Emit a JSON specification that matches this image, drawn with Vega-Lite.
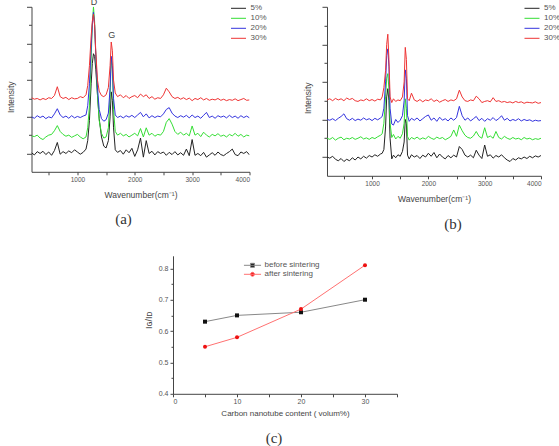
{
  "$schema": "https://vega.github.io/schema/vega-lite/v6.json",
  "background": "white",
  "padding": {"left": 5.5, "top": -2.2, "right": 0, "bottom": 0},
  "center": true,
  "spacing": 24,
  "resolve": {
    "scale": {"color": "independent", "stroke": "independent"},
    "legend": {"color": "independent", "stroke": "independent"}
  },
  "config": {
    "view": {"stroke": null},
    "font": "Liberation Sans",
    "axis": {"grid": false, "domainColor": "#444", "tickColor": "#444", "labelColor": "#555", "titleColor": "#444", "titleFontWeight": "normal", "labelFont": "Liberation Sans", "titleFont": "Liberation Sans"},
    "legend": {"padding": 0, "labelFont": "Liberation Sans", "labelColor": "#555"},
    "title": {"font": "Liberation Serif", "fontSize": 15, "fontWeight": "normal", "color": "#333", "orient": "bottom"}
  },
  "datasets": {
    "a": [
      {"s":"5%","x":200,"y":0.02},{"s":"5%","x":250,"y":-0.04},{"s":"5%","x":300,"y":0.05},{"s":"5%","x":350,"y":0},{"s":"5%","x":400,"y":0.06},{"s":"5%","x":450,"y":-0.03},{"s":"5%","x":500,"y":0.04},{"s":"5%","x":550,"y":-0.05},{"s":"5%","x":600,"y":0.08},{"s":"5%","x":650,"y":0.3},{"s":"5%","x":700,"y":-0.02},{"s":"5%","x":750,"y":0.05},{"s":"5%","x":800,"y":0},{"s":"5%","x":850,"y":0.07},{"s":"5%","x":900,"y":0.02},{"s":"5%","x":950,"y":0.1},{"s":"5%","x":1000,"y":0.04},{"s":"5%","x":1050,"y":-0.02},{"s":"5%","x":1100,"y":0.03},{"s":"5%","x":1150,"y":0.12},{"s":"5%","x":1180,"y":0.35},{"s":"5%","x":1210,"y":0.9},{"s":"5%","x":1240,"y":1.9},{"s":"5%","x":1260,"y":2.45},{"s":"5%","x":1280,"y":2.72},{"s":"5%","x":1300,"y":2.65},{"s":"5%","x":1320,"y":2.3},{"s":"5%","x":1350,"y":1.6},{"s":"5%","x":1380,"y":0.95},{"s":"5%","x":1420,"y":0.45},{"s":"5%","x":1460,"y":0.2},{"s":"5%","x":1500,"y":0.15},{"s":"5%","x":1540,"y":0.35},{"s":"5%","x":1570,"y":1.0},{"s":"5%","x":1590,"y":1.68},{"s":"5%","x":1610,"y":1.45},{"s":"5%","x":1630,"y":0.7},{"s":"5%","x":1660,"y":0.1},{"s":"5%","x":1700,"y":0.03},{"s":"5%","x":1750,"y":0.08},{"s":"5%","x":1800,"y":-0.02},{"s":"5%","x":1850,"y":0.1},{"s":"5%","x":1900,"y":0.02},{"s":"5%","x":1950,"y":0.14},{"s":"5%","x":2000,"y":-0.08},{"s":"5%","x":2050,"y":0.1},{"s":"5%","x":2100,"y":0.42},{"s":"5%","x":2150,"y":-0.1},{"s":"5%","x":2200,"y":0.35},{"s":"5%","x":2250,"y":0},{"s":"5%","x":2300,"y":0.06},{"s":"5%","x":2350,"y":-0.04},{"s":"5%","x":2400,"y":0.05},{"s":"5%","x":2450,"y":0},{"s":"5%","x":2500,"y":0.04},{"s":"5%","x":2550,"y":-0.05},{"s":"5%","x":2600,"y":0.03},{"s":"5%","x":2650,"y":-0.03},{"s":"5%","x":2700,"y":0.05},{"s":"5%","x":2750,"y":-0.04},{"s":"5%","x":2800,"y":0.02},{"s":"5%","x":2850,"y":-0.05},{"s":"5%","x":2900,"y":0.12},{"s":"5%","x":2950,"y":-0.06},{"s":"5%","x":3000,"y":0.38},{"s":"5%","x":3050,"y":-0.05},{"s":"5%","x":3100,"y":0},{"s":"5%","x":3150,"y":-0.06},{"s":"5%","x":3200,"y":0.03},{"s":"5%","x":3250,"y":-0.1},{"s":"5%","x":3300,"y":-0.04},{"s":"5%","x":3350,"y":0.02},{"s":"5%","x":3400,"y":-0.05},{"s":"5%","x":3450,"y":0.04},{"s":"5%","x":3500,"y":-0.03},{"s":"5%","x":3550,"y":-0.06},{"s":"5%","x":3600,"y":0},{"s":"5%","x":3650,"y":0.05},{"s":"5%","x":3700,"y":0.12},{"s":"5%","x":3750,"y":-0.03},{"s":"5%","x":3800,"y":-0.06},{"s":"5%","x":3850,"y":0.04},{"s":"5%","x":3900,"y":0},{"s":"5%","x":3950,"y":0.05},{"s":"5%","x":4000,"y":-0.04},

      {"s":"10%","x":200,"y":0.48},{"s":"10%","x":250,"y":0.46},{"s":"10%","x":300,"y":0.5},{"s":"10%","x":350,"y":0.42},{"s":"10%","x":400,"y":0.38},{"s":"10%","x":450,"y":0.45},{"s":"10%","x":500,"y":0.5},{"s":"10%","x":550,"y":0.52},{"s":"10%","x":600,"y":0.62},{"s":"10%","x":650,"y":0.76},{"s":"10%","x":700,"y":0.6},{"s":"10%","x":750,"y":0.52},{"s":"10%","x":800,"y":0.47},{"s":"10%","x":850,"y":0.5},{"s":"10%","x":900,"y":0.44},{"s":"10%","x":950,"y":0.48},{"s":"10%","x":1000,"y":0.52},{"s":"10%","x":1050,"y":0.45},{"s":"10%","x":1100,"y":0.4},{"s":"10%","x":1150,"y":0.45},{"s":"10%","x":1180,"y":0.7},{"s":"10%","x":1210,"y":1.3},{"s":"10%","x":1240,"y":2.6},{"s":"10%","x":1260,"y":3.5},{"s":"10%","x":1280,"y":4.0},{"s":"10%","x":1300,"y":3.6},{"s":"10%","x":1320,"y":2.7},{"s":"10%","x":1350,"y":1.6},{"s":"10%","x":1380,"y":0.9},{"s":"10%","x":1420,"y":0.55},{"s":"10%","x":1460,"y":0.42},{"s":"10%","x":1500,"y":0.45},{"s":"10%","x":1540,"y":0.7},{"s":"10%","x":1570,"y":1.6},{"s":"10%","x":1590,"y":2.6},{"s":"10%","x":1610,"y":2.3},{"s":"10%","x":1630,"y":1.2},{"s":"10%","x":1660,"y":0.6},{"s":"10%","x":1700,"y":0.5},{"s":"10%","x":1750,"y":0.55},{"s":"10%","x":1800,"y":0.48},{"s":"10%","x":1850,"y":0.52},{"s":"10%","x":1900,"y":0.45},{"s":"10%","x":1950,"y":0.5},{"s":"10%","x":2000,"y":0.55},{"s":"10%","x":2050,"y":0.48},{"s":"10%","x":2100,"y":0.68},{"s":"10%","x":2150,"y":0.45},{"s":"10%","x":2200,"y":0.7},{"s":"10%","x":2250,"y":0.5},{"s":"10%","x":2300,"y":0.55},{"s":"10%","x":2350,"y":0.47},{"s":"10%","x":2400,"y":0.52},{"s":"10%","x":2450,"y":0.5},{"s":"10%","x":2500,"y":0.6},{"s":"10%","x":2550,"y":0.85},{"s":"10%","x":2600,"y":0.95},{"s":"10%","x":2650,"y":0.8},{"s":"10%","x":2700,"y":0.6},{"s":"10%","x":2750,"y":0.52},{"s":"10%","x":2800,"y":0.58},{"s":"10%","x":2850,"y":0.5},{"s":"10%","x":2900,"y":0.55},{"s":"10%","x":2950,"y":0.48},{"s":"10%","x":3000,"y":0.75},{"s":"10%","x":3050,"y":0.5},{"s":"10%","x":3100,"y":0.55},{"s":"10%","x":3150,"y":0.46},{"s":"10%","x":3200,"y":0.58},{"s":"10%","x":3250,"y":0.5},{"s":"10%","x":3300,"y":0.45},{"s":"10%","x":3350,"y":0.52},{"s":"10%","x":3400,"y":0.48},{"s":"10%","x":3450,"y":0.54},{"s":"10%","x":3500,"y":0.47},{"s":"10%","x":3550,"y":0.5},{"s":"10%","x":3600,"y":0.45},{"s":"10%","x":3650,"y":0.52},{"s":"10%","x":3700,"y":0.48},{"s":"10%","x":3750,"y":0.55},{"s":"10%","x":3800,"y":0.47},{"s":"10%","x":3850,"y":0.52},{"s":"10%","x":3900,"y":0.45},{"s":"10%","x":3950,"y":0.5},{"s":"10%","x":4000,"y":0.48},

      {"s":"20%","x":200,"y":1.0},{"s":"20%","x":250,"y":0.96},{"s":"20%","x":300,"y":1.03},{"s":"20%","x":350,"y":0.98},{"s":"20%","x":400,"y":1.02},{"s":"20%","x":450,"y":0.95},{"s":"20%","x":500,"y":1.0},{"s":"20%","x":550,"y":0.97},{"s":"20%","x":600,"y":1.08},{"s":"20%","x":650,"y":1.22},{"s":"20%","x":700,"y":1.05},{"s":"20%","x":750,"y":0.98},{"s":"20%","x":800,"y":1.02},{"s":"20%","x":850,"y":0.96},{"s":"20%","x":900,"y":1.03},{"s":"20%","x":950,"y":0.97},{"s":"20%","x":1000,"y":1.01},{"s":"20%","x":1050,"y":0.98},{"s":"20%","x":1100,"y":1.02},{"s":"20%","x":1150,"y":1.05},{"s":"20%","x":1180,"y":1.3},{"s":"20%","x":1210,"y":1.9},{"s":"20%","x":1240,"y":2.9},{"s":"20%","x":1260,"y":3.5},{"s":"20%","x":1280,"y":3.85},{"s":"20%","x":1300,"y":3.5},{"s":"20%","x":1320,"y":2.7},{"s":"20%","x":1350,"y":1.8},{"s":"20%","x":1380,"y":1.2},{"s":"20%","x":1420,"y":0.95},{"s":"20%","x":1460,"y":0.88},{"s":"20%","x":1500,"y":0.92},{"s":"20%","x":1540,"y":1.1},{"s":"20%","x":1570,"y":1.8},{"s":"20%","x":1590,"y":2.65},{"s":"20%","x":1610,"y":2.4},{"s":"20%","x":1630,"y":1.5},{"s":"20%","x":1660,"y":1.05},{"s":"20%","x":1700,"y":0.98},{"s":"20%","x":1750,"y":1.02},{"s":"20%","x":1800,"y":0.97},{"s":"20%","x":1850,"y":1.03},{"s":"20%","x":1900,"y":0.99},{"s":"20%","x":1950,"y":1.04},{"s":"20%","x":2000,"y":0.98},{"s":"20%","x":2050,"y":1.05},{"s":"20%","x":2100,"y":1.12},{"s":"20%","x":2150,"y":1.0},{"s":"20%","x":2200,"y":1.08},{"s":"20%","x":2250,"y":0.97},{"s":"20%","x":2300,"y":1.03},{"s":"20%","x":2350,"y":0.98},{"s":"20%","x":2400,"y":1.02},{"s":"20%","x":2450,"y":1.0},{"s":"20%","x":2500,"y":1.08},{"s":"20%","x":2550,"y":1.2},{"s":"20%","x":2600,"y":1.25},{"s":"20%","x":2650,"y":1.1},{"s":"20%","x":2700,"y":1.02},{"s":"20%","x":2750,"y":0.98},{"s":"20%","x":2800,"y":1.03},{"s":"20%","x":2850,"y":0.99},{"s":"20%","x":2900,"y":1.04},{"s":"20%","x":2950,"y":0.97},{"s":"20%","x":3000,"y":1.05},{"s":"20%","x":3050,"y":0.98},{"s":"20%","x":3100,"y":1.02},{"s":"20%","x":3150,"y":0.96},{"s":"20%","x":3200,"y":1.04},{"s":"20%","x":3250,"y":1.12},{"s":"20%","x":3300,"y":0.98},{"s":"20%","x":3350,"y":1.02},{"s":"20%","x":3400,"y":0.96},{"s":"20%","x":3450,"y":1.03},{"s":"20%","x":3500,"y":0.99},{"s":"20%","x":3550,"y":1.02},{"s":"20%","x":3600,"y":0.97},{"s":"20%","x":3650,"y":1.04},{"s":"20%","x":3700,"y":0.98},{"s":"20%","x":3750,"y":1.02},{"s":"20%","x":3800,"y":0.96},{"s":"20%","x":3850,"y":1.03},{"s":"20%","x":3900,"y":0.98},{"s":"20%","x":3950,"y":1.02},{"s":"20%","x":4000,"y":0.97},

      {"s":"30%","x":200,"y":1.52},{"s":"30%","x":250,"y":1.48},{"s":"30%","x":300,"y":1.5},{"s":"30%","x":350,"y":1.46},{"s":"30%","x":400,"y":1.5},{"s":"30%","x":450,"y":1.47},{"s":"30%","x":500,"y":1.52},{"s":"30%","x":550,"y":1.5},{"s":"30%","x":600,"y":1.58},{"s":"30%","x":650,"y":1.82},{"s":"30%","x":700,"y":1.55},{"s":"30%","x":750,"y":1.5},{"s":"30%","x":800,"y":1.53},{"s":"30%","x":850,"y":1.47},{"s":"30%","x":900,"y":1.52},{"s":"30%","x":950,"y":1.49},{"s":"30%","x":1000,"y":1.5},{"s":"30%","x":1050,"y":1.55},{"s":"30%","x":1100,"y":1.52},{"s":"30%","x":1150,"y":1.6},{"s":"30%","x":1180,"y":1.85},{"s":"30%","x":1210,"y":2.4},{"s":"30%","x":1240,"y":3.2},{"s":"30%","x":1260,"y":3.6},{"s":"30%","x":1280,"y":3.8},{"s":"30%","x":1300,"y":3.5},{"s":"30%","x":1320,"y":2.8},{"s":"30%","x":1350,"y":2.0},{"s":"30%","x":1380,"y":1.7},{"s":"30%","x":1420,"y":1.58},{"s":"30%","x":1460,"y":1.55},{"s":"30%","x":1500,"y":1.6},{"s":"30%","x":1540,"y":1.8},{"s":"30%","x":1570,"y":2.4},{"s":"30%","x":1590,"y":3.04},{"s":"30%","x":1610,"y":2.8},{"s":"30%","x":1630,"y":2.0},{"s":"30%","x":1660,"y":1.65},{"s":"30%","x":1700,"y":1.55},{"s":"30%","x":1750,"y":1.6},{"s":"30%","x":1800,"y":1.52},{"s":"30%","x":1850,"y":1.58},{"s":"30%","x":1900,"y":1.5},{"s":"30%","x":1950,"y":1.55},{"s":"30%","x":2000,"y":1.58},{"s":"30%","x":2050,"y":1.52},{"s":"30%","x":2100,"y":1.62},{"s":"30%","x":2150,"y":1.55},{"s":"30%","x":2200,"y":1.6},{"s":"30%","x":2250,"y":1.5},{"s":"30%","x":2300,"y":1.55},{"s":"30%","x":2350,"y":1.48},{"s":"30%","x":2400,"y":1.52},{"s":"30%","x":2450,"y":1.5},{"s":"30%","x":2500,"y":1.6},{"s":"30%","x":2550,"y":1.78},{"s":"30%","x":2600,"y":1.68},{"s":"30%","x":2650,"y":1.55},{"s":"30%","x":2700,"y":1.5},{"s":"30%","x":2750,"y":1.53},{"s":"30%","x":2800,"y":1.48},{"s":"30%","x":2850,"y":1.52},{"s":"30%","x":2900,"y":1.47},{"s":"30%","x":2950,"y":1.51},{"s":"30%","x":3000,"y":1.44},{"s":"30%","x":3050,"y":1.5},{"s":"30%","x":3100,"y":1.47},{"s":"30%","x":3150,"y":1.52},{"s":"30%","x":3200,"y":1.46},{"s":"30%","x":3250,"y":1.5},{"s":"30%","x":3300,"y":1.45},{"s":"30%","x":3350,"y":1.48},{"s":"30%","x":3400,"y":1.46},{"s":"30%","x":3450,"y":1.5},{"s":"30%","x":3500,"y":1.45},{"s":"30%","x":3550,"y":1.48},{"s":"30%","x":3600,"y":1.44},{"s":"30%","x":3650,"y":1.47},{"s":"30%","x":3700,"y":1.45},{"s":"30%","x":3750,"y":1.49},{"s":"30%","x":3800,"y":1.44},{"s":"30%","x":3850,"y":1.47},{"s":"30%","x":3900,"y":1.5},{"s":"30%","x":3950,"y":1.45},{"s":"30%","x":4000,"y":1.46}
    ],
    "b": [
      {"s":"5%","x":200,"y":0},{"s":"5%","x":250,"y":-0.03},{"s":"5%","x":300,"y":0.02},{"s":"5%","x":350,"y":-0.06},{"s":"5%","x":400,"y":-0.1},{"s":"5%","x":450,"y":-0.04},{"s":"5%","x":500,"y":-0.12},{"s":"5%","x":550,"y":-0.06},{"s":"5%","x":600,"y":-0.1},{"s":"5%","x":650,"y":-0.02},{"s":"5%","x":700,"y":-0.08},{"s":"5%","x":750,"y":0},{"s":"5%","x":800,"y":-0.05},{"s":"5%","x":850,"y":0.02},{"s":"5%","x":900,"y":-0.03},{"s":"5%","x":950,"y":0.04},{"s":"5%","x":1000,"y":0},{"s":"5%","x":1050,"y":0.06},{"s":"5%","x":1100,"y":0.02},{"s":"5%","x":1150,"y":0.08},{"s":"5%","x":1180,"y":0.1},{"s":"5%","x":1210,"y":0.2},{"s":"5%","x":1240,"y":0.8},{"s":"5%","x":1260,"y":1.6},{"s":"5%","x":1280,"y":1.82},{"s":"5%","x":1300,"y":1.5},{"s":"5%","x":1320,"y":0.5},{"s":"5%","x":1350,"y":-0.05},{"s":"5%","x":1380,"y":0.05},{"s":"5%","x":1420,"y":-0.02},{"s":"5%","x":1460,"y":0.06},{"s":"5%","x":1500,"y":0.02},{"s":"5%","x":1540,"y":0.15},{"s":"5%","x":1570,"y":0.4},{"s":"5%","x":1590,"y":1.0},{"s":"5%","x":1610,"y":0.9},{"s":"5%","x":1630,"y":0.05},{"s":"5%","x":1660,"y":-0.05},{"s":"5%","x":1700,"y":0.06},{"s":"5%","x":1750,"y":0},{"s":"5%","x":1800,"y":0.04},{"s":"5%","x":1850,"y":-0.04},{"s":"5%","x":1900,"y":0.05},{"s":"5%","x":1950,"y":0},{"s":"5%","x":2000,"y":0.1},{"s":"5%","x":2050,"y":0.02},{"s":"5%","x":2100,"y":0.12},{"s":"5%","x":2150,"y":-0.02},{"s":"5%","x":2200,"y":0.08},{"s":"5%","x":2250,"y":0},{"s":"5%","x":2300,"y":-0.05},{"s":"5%","x":2350,"y":0.04},{"s":"5%","x":2400,"y":-0.02},{"s":"5%","x":2450,"y":0.05},{"s":"5%","x":2500,"y":0},{"s":"5%","x":2550,"y":0.28},{"s":"5%","x":2600,"y":0.2},{"s":"5%","x":2650,"y":0.05},{"s":"5%","x":2700,"y":0},{"s":"5%","x":2750,"y":0.05},{"s":"5%","x":2800,"y":-0.02},{"s":"5%","x":2850,"y":0.18},{"s":"5%","x":2900,"y":0.05},{"s":"5%","x":2950,"y":-0.04},{"s":"5%","x":3000,"y":0.32},{"s":"5%","x":3050,"y":0.02},{"s":"5%","x":3100,"y":0.06},{"s":"5%","x":3150,"y":-0.03},{"s":"5%","x":3200,"y":0.04},{"s":"5%","x":3250,"y":0},{"s":"5%","x":3300,"y":0.06},{"s":"5%","x":3350,"y":-0.02},{"s":"5%","x":3400,"y":-0.08},{"s":"5%","x":3450,"y":-0.12},{"s":"5%","x":3500,"y":-0.04},{"s":"5%","x":3550,"y":-0.08},{"s":"5%","x":3600,"y":-0.02},{"s":"5%","x":3650,"y":-0.05},{"s":"5%","x":3700,"y":0},{"s":"5%","x":3750,"y":-0.04},{"s":"5%","x":3800,"y":0.02},{"s":"5%","x":3850,"y":-0.02},{"s":"5%","x":3900,"y":0.03},{"s":"5%","x":3950,"y":0},{"s":"5%","x":4000,"y":0.04},

      {"s":"10%","x":200,"y":0.5},{"s":"10%","x":250,"y":0.47},{"s":"10%","x":300,"y":0.52},{"s":"10%","x":350,"y":0.45},{"s":"10%","x":400,"y":0.5},{"s":"10%","x":450,"y":0.53},{"s":"10%","x":500,"y":0.46},{"s":"10%","x":550,"y":0.5},{"s":"10%","x":600,"y":0.48},{"s":"10%","x":650,"y":0.52},{"s":"10%","x":700,"y":0.47},{"s":"10%","x":750,"y":0.5},{"s":"10%","x":800,"y":0.54},{"s":"10%","x":850,"y":0.48},{"s":"10%","x":900,"y":0.51},{"s":"10%","x":950,"y":0.47},{"s":"10%","x":1000,"y":0.52},{"s":"10%","x":1050,"y":0.49},{"s":"10%","x":1100,"y":0.54},{"s":"10%","x":1150,"y":0.58},{"s":"10%","x":1180,"y":0.62},{"s":"10%","x":1210,"y":0.9},{"s":"10%","x":1240,"y":1.6},{"s":"10%","x":1260,"y":2.1},{"s":"10%","x":1280,"y":2.22},{"s":"10%","x":1300,"y":1.8},{"s":"10%","x":1320,"y":0.9},{"s":"10%","x":1350,"y":0.52},{"s":"10%","x":1380,"y":0.6},{"s":"10%","x":1420,"y":0.48},{"s":"10%","x":1460,"y":0.55},{"s":"10%","x":1500,"y":0.5},{"s":"10%","x":1540,"y":0.62},{"s":"10%","x":1570,"y":0.9},{"s":"10%","x":1590,"y":1.55},{"s":"10%","x":1610,"y":1.3},{"s":"10%","x":1630,"y":0.55},{"s":"10%","x":1660,"y":0.45},{"s":"10%","x":1700,"y":0.52},{"s":"10%","x":1750,"y":0.48},{"s":"10%","x":1800,"y":0.53},{"s":"10%","x":1850,"y":0.47},{"s":"10%","x":1900,"y":0.51},{"s":"10%","x":1950,"y":0.48},{"s":"10%","x":2000,"y":0.55},{"s":"10%","x":2050,"y":0.5},{"s":"10%","x":2100,"y":0.47},{"s":"10%","x":2150,"y":0.53},{"s":"10%","x":2200,"y":0.49},{"s":"10%","x":2250,"y":0.52},{"s":"10%","x":2300,"y":0.46},{"s":"10%","x":2350,"y":0.5},{"s":"10%","x":2400,"y":0.55},{"s":"10%","x":2450,"y":0.72},{"s":"10%","x":2500,"y":0.55},{"s":"10%","x":2550,"y":0.85},{"s":"10%","x":2600,"y":0.7},{"s":"10%","x":2650,"y":0.58},{"s":"10%","x":2700,"y":0.52},{"s":"10%","x":2750,"y":0.5},{"s":"10%","x":2800,"y":0.56},{"s":"10%","x":2850,"y":0.68},{"s":"10%","x":2900,"y":0.55},{"s":"10%","x":2950,"y":0.5},{"s":"10%","x":3000,"y":0.78},{"s":"10%","x":3050,"y":0.52},{"s":"10%","x":3100,"y":0.56},{"s":"10%","x":3150,"y":0.5},{"s":"10%","x":3200,"y":0.68},{"s":"10%","x":3250,"y":0.52},{"s":"10%","x":3300,"y":0.48},{"s":"10%","x":3350,"y":0.55},{"s":"10%","x":3400,"y":0.5},{"s":"10%","x":3450,"y":0.47},{"s":"10%","x":3500,"y":0.52},{"s":"10%","x":3550,"y":0.48},{"s":"10%","x":3600,"y":0.5},{"s":"10%","x":3650,"y":0.46},{"s":"10%","x":3700,"y":0.52},{"s":"10%","x":3750,"y":0.48},{"s":"10%","x":3800,"y":0.5},{"s":"10%","x":3850,"y":0.46},{"s":"10%","x":3900,"y":0.49},{"s":"10%","x":3950,"y":0.47},{"s":"10%","x":4000,"y":0.5},

      {"s":"20%","x":200,"y":1.0},{"s":"20%","x":250,"y":0.98},{"s":"20%","x":300,"y":1.02},{"s":"20%","x":350,"y":0.97},{"s":"20%","x":400,"y":1.03},{"s":"20%","x":450,"y":1.08},{"s":"20%","x":500,"y":1.15},{"s":"20%","x":550,"y":1.02},{"s":"20%","x":600,"y":0.98},{"s":"20%","x":650,"y":1.03},{"s":"20%","x":700,"y":0.97},{"s":"20%","x":750,"y":1.01},{"s":"20%","x":800,"y":0.98},{"s":"20%","x":850,"y":1.04},{"s":"20%","x":900,"y":0.99},{"s":"20%","x":950,"y":1.02},{"s":"20%","x":1000,"y":0.97},{"s":"20%","x":1050,"y":1.03},{"s":"20%","x":1100,"y":0.99},{"s":"20%","x":1150,"y":1.04},{"s":"20%","x":1180,"y":1.08},{"s":"20%","x":1210,"y":1.3},{"s":"20%","x":1240,"y":2.0},{"s":"20%","x":1260,"y":2.7},{"s":"20%","x":1280,"y":2.88},{"s":"20%","x":1300,"y":2.4},{"s":"20%","x":1320,"y":1.3},{"s":"20%","x":1350,"y":0.88},{"s":"20%","x":1380,"y":0.85},{"s":"20%","x":1420,"y":1.0},{"s":"20%","x":1460,"y":0.92},{"s":"20%","x":1500,"y":0.98},{"s":"20%","x":1540,"y":1.1},{"s":"20%","x":1570,"y":1.5},{"s":"20%","x":1590,"y":2.32},{"s":"20%","x":1610,"y":2.1},{"s":"20%","x":1630,"y":1.1},{"s":"20%","x":1660,"y":0.95},{"s":"20%","x":1700,"y":1.03},{"s":"20%","x":1750,"y":0.98},{"s":"20%","x":1800,"y":1.04},{"s":"20%","x":1850,"y":0.96},{"s":"20%","x":1900,"y":1.02},{"s":"20%","x":1950,"y":1.08},{"s":"20%","x":2000,"y":1.12},{"s":"20%","x":2050,"y":0.98},{"s":"20%","x":2100,"y":1.04},{"s":"20%","x":2150,"y":0.95},{"s":"20%","x":2200,"y":1.06},{"s":"20%","x":2250,"y":0.98},{"s":"20%","x":2300,"y":1.02},{"s":"20%","x":2350,"y":0.96},{"s":"20%","x":2400,"y":1.04},{"s":"20%","x":2450,"y":0.98},{"s":"20%","x":2500,"y":1.05},{"s":"20%","x":2550,"y":1.35},{"s":"20%","x":2600,"y":1.1},{"s":"20%","x":2650,"y":0.98},{"s":"20%","x":2700,"y":1.04},{"s":"20%","x":2750,"y":0.96},{"s":"20%","x":2800,"y":1.02},{"s":"20%","x":2850,"y":1.08},{"s":"20%","x":2900,"y":0.97},{"s":"20%","x":2950,"y":1.03},{"s":"20%","x":3000,"y":0.95},{"s":"20%","x":3050,"y":1.02},{"s":"20%","x":3100,"y":0.98},{"s":"20%","x":3150,"y":1.05},{"s":"20%","x":3200,"y":0.97},{"s":"20%","x":3250,"y":1.02},{"s":"20%","x":3300,"y":1.1},{"s":"20%","x":3350,"y":0.98},{"s":"20%","x":3400,"y":1.03},{"s":"20%","x":3450,"y":0.96},{"s":"20%","x":3500,"y":1.0},{"s":"20%","x":3550,"y":0.97},{"s":"20%","x":3600,"y":1.02},{"s":"20%","x":3650,"y":0.96},{"s":"20%","x":3700,"y":1.0},{"s":"20%","x":3750,"y":0.97},{"s":"20%","x":3800,"y":0.99},{"s":"20%","x":3850,"y":0.95},{"s":"20%","x":3900,"y":0.98},{"s":"20%","x":3950,"y":0.96},{"s":"20%","x":4000,"y":0.97},

      {"s":"30%","x":200,"y":1.52},{"s":"30%","x":250,"y":1.55},{"s":"30%","x":300,"y":1.5},{"s":"30%","x":350,"y":1.56},{"s":"30%","x":400,"y":1.52},{"s":"30%","x":450,"y":1.55},{"s":"30%","x":500,"y":1.5},{"s":"30%","x":550,"y":1.57},{"s":"30%","x":600,"y":1.53},{"s":"30%","x":650,"y":1.56},{"s":"30%","x":700,"y":1.5},{"s":"30%","x":750,"y":1.48},{"s":"30%","x":800,"y":1.52},{"s":"30%","x":850,"y":1.5},{"s":"30%","x":900,"y":1.55},{"s":"30%","x":950,"y":1.5},{"s":"30%","x":1000,"y":1.53},{"s":"30%","x":1050,"y":1.49},{"s":"30%","x":1100,"y":1.54},{"s":"30%","x":1150,"y":1.52},{"s":"30%","x":1180,"y":1.6},{"s":"30%","x":1210,"y":1.85},{"s":"30%","x":1240,"y":2.3},{"s":"30%","x":1260,"y":3.0},{"s":"30%","x":1280,"y":3.27},{"s":"30%","x":1300,"y":2.6},{"s":"30%","x":1320,"y":1.6},{"s":"30%","x":1350,"y":1.45},{"s":"30%","x":1380,"y":1.55},{"s":"30%","x":1420,"y":1.48},{"s":"30%","x":1460,"y":1.52},{"s":"30%","x":1500,"y":1.5},{"s":"30%","x":1540,"y":1.6},{"s":"30%","x":1570,"y":2.0},{"s":"30%","x":1590,"y":2.92},{"s":"30%","x":1610,"y":2.6},{"s":"30%","x":1630,"y":1.55},{"s":"30%","x":1660,"y":1.5},{"s":"30%","x":1700,"y":1.7},{"s":"30%","x":1750,"y":1.52},{"s":"30%","x":1800,"y":1.48},{"s":"30%","x":1850,"y":1.53},{"s":"30%","x":1900,"y":1.47},{"s":"30%","x":1950,"y":1.52},{"s":"30%","x":2000,"y":1.5},{"s":"30%","x":2050,"y":1.55},{"s":"30%","x":2100,"y":1.48},{"s":"30%","x":2150,"y":1.52},{"s":"30%","x":2200,"y":1.46},{"s":"30%","x":2250,"y":1.5},{"s":"30%","x":2300,"y":1.53},{"s":"30%","x":2350,"y":1.48},{"s":"30%","x":2400,"y":1.52},{"s":"30%","x":2450,"y":1.5},{"s":"30%","x":2500,"y":1.55},{"s":"30%","x":2550,"y":1.78},{"s":"30%","x":2600,"y":1.6},{"s":"30%","x":2650,"y":1.5},{"s":"30%","x":2700,"y":1.48},{"s":"30%","x":2750,"y":1.52},{"s":"30%","x":2800,"y":1.5},{"s":"30%","x":2850,"y":1.62},{"s":"30%","x":2900,"y":1.55},{"s":"30%","x":2950,"y":1.45},{"s":"30%","x":3000,"y":1.48},{"s":"30%","x":3050,"y":1.5},{"s":"30%","x":3100,"y":1.47},{"s":"30%","x":3150,"y":1.58},{"s":"30%","x":3200,"y":1.48},{"s":"30%","x":3250,"y":1.5},{"s":"30%","x":3300,"y":1.46},{"s":"30%","x":3350,"y":1.48},{"s":"30%","x":3400,"y":1.45},{"s":"30%","x":3450,"y":1.47},{"s":"30%","x":3500,"y":1.44},{"s":"30%","x":3550,"y":1.48},{"s":"30%","x":3600,"y":1.45},{"s":"30%","x":3650,"y":1.47},{"s":"30%","x":3700,"y":1.43},{"s":"30%","x":3750,"y":1.46},{"s":"30%","x":3800,"y":1.45},{"s":"30%","x":3850,"y":1.44},{"s":"30%","x":3900,"y":1.47},{"s":"30%","x":3950,"y":1.43},{"s":"30%","x":4000,"y":1.45}
    ],
    "c": [
      {"g":"before sintering","x":5,"y":0.63},{"g":"before sintering","x":10,"y":0.65},{"g":"before sintering","x":20,"y":0.66},{"g":"before sintering","x":30,"y":0.70},
      {"g":"after sintering","x":5,"y":0.55},{"g":"after sintering","x":10,"y":0.58},{"g":"after sintering","x":20,"y":0.67},{"g":"after sintering","x":30,"y":0.81}
    ]
  },
  "vconcat": [
    {
      "hconcat": [
        {
          "width": 218, "height": 165,
          "title": {"text": "(a)", "offset": 13, "dx": -17},
          "encoding": {
            "x": {"field": "x", "type": "quantitative", "scale": {"domain": [200, 4000], "nice": false, "zero": false},
              "axis": {"values": [500,1000,1500,2000,2500,3000,3500,4000], "format": "d", "labelExpr": "datum.value % 1000 === 0 ? datum.label : ''", "title": "Wavenumber(cm\u207B\u00B9)", "tickSize": 3, "labelFontSize": 6.5, "labelPadding": 2, "titleFontSize": 8.5, "titlePadding": 7}},
            "y": {"field": "y", "type": "quantitative", "scale": {"domain": [-0.5, 4], "nice": false, "zero": false},
              "axis": {"values": [0,0.5,1,1.5,2,2.5,3,3.5,4], "labels": false, "tickSize": {"condition": {"test": "datum.value % 1 === 0", "value": 5}, "value": 3}, "title": "Intensity", "titleFontSize": 8.5, "titleX": -16.5, "titleY": 90}}
          },
          "layer": [
            {
              "data": {"name": "a"},
              "mark": {"type": "line", "strokeWidth": 1, "clip": true},
              "encoding": {
                "color": {"field": "s", "type": "nominal", "scale": {"domain": ["5%","10%","20%","30%"], "range": ["#222222","#33dd33","#3333dd","#ee3333"]},
                  "legend": {"orient": "none", "legendX": 201.5, "legendY": -4, "title": null, "symbolType": "M-1.5,0H1.5", "symbolSize": 100, "symbolStrokeWidth": 1, "labelFontSize": 8, "rowPadding": 0, "labelOffset": 6.5,
                    "encode": {"symbols": {"update": {"stroke": {"signal": "{'5%': '#222222', '10%': '#33dd33', '20%': '#3333dd', '30%': '#ee3333'}[datum.value]"}}}}}}
              }
            },
            {
              "data": {"values": [{"t": "D", "x": 1290, "y": 4.12}, {"t": "G", "x": 1600, "y": 3.24}]},
              "mark": {"type": "text", "fontSize": 9, "color": "#444", "baseline": "middle"},
              "encoding": {"text": {"field": "t"}}
            }
          ]
        },
        {
          "width": 214, "height": 169,
          "title": {"text": "(b)", "offset": 14, "dx": 19},
          "data": {"name": "b"},
          "mark": {"type": "line", "strokeWidth": 1, "clip": true},
          "encoding": {
            "x": {"field": "x", "type": "quantitative", "scale": {"domain": [200, 4000], "nice": false, "zero": false},
              "axis": {"values": [500,1000,1500,2000,2500,3000,3500,4000], "format": "d", "labelExpr": "datum.value % 1000 === 0 ? datum.label : ''", "title": "Wavenumber(cm\u207B\u00B9)", "tickSize": 3, "labelFontSize": 6.5, "labelPadding": 2, "titleFontSize": 8.5, "titlePadding": 7}},
            "y": {"field": "y", "type": "quantitative", "scale": {"domain": [-0.5, 4], "nice": false, "zero": false},
              "axis": {"values": [0,0.5,1,1.5,2,2.5,3,3.5,4], "labels": false, "tickSize": {"condition": {"test": "datum.value % 1 === 0", "value": 5}, "value": 3}, "title": "Intensity", "titleFontSize": 8.5, "titleX": -14.5, "titleY": 91}},
            "color": {"field": "s", "type": "nominal", "scale": {"domain": ["5%","10%","20%","30%"], "range": ["#222222","#33dd33","#3333dd","#ee3333"]},
              "legend": {"orient": "none", "legendX": 199.5, "legendY": -4, "title": null, "symbolType": "M-1.5,0H1.5", "symbolSize": 100, "symbolStrokeWidth": 1, "labelFontSize": 8, "rowPadding": 0, "labelOffset": 6.5,
                "encode": {"symbols": {"update": {"stroke": {"signal": "{'5%': '#222222', '10%': '#33dd33', '20%': '#3333dd', '30%': '#ee3333'}[datum.value]"}}}}}}
          }
        }
      ],
      "spacing": 35.5,
      "resolve": {"scale": {"color": "independent"}, "legend": {"color": "independent"}}
    },
    {
      "width": 224, "height": 138,
      "title": {"text": "(c)", "offset": 13, "dx": -11},
      "data": {"name": "c"},
      "encoding": {
        "x": {"field": "x", "type": "quantitative", "scale": {"domain": [0, 35], "nice": false},
          "axis": {"values": [0,5,10,15,20,25,30,35], "labelExpr": "datum.value % 10 === 0 ? datum.label : ''", "title": "Carbon nanotube content (   volum%)", "tickSize": 3, "labelFontSize": 7, "labelPadding": 1, "titleFontSize": 8, "titlePadding": 5}}
      },
      "layer": [
        {
          "mark": {"type": "line", "strokeWidth": 1},
          "encoding": {
            "y": {"field": "y", "type": "quantitative", "scale": {"domain": [0.4, 0.84], "nice": false, "zero": false},
              "axis": {"orient": "left", "values": [0.4,0.45,0.5,0.55,0.6,0.65,0.7,0.75,0.8], "format": ".1f", "labelExpr": "abs(datum.value * 10 - round(datum.value * 10)) < 0.01 ? datum.label : ''", "tickSize": {"condition": {"test": "abs(datum.value * 10 - round(datum.value * 10)) < 0.01", "value": 3}, "value": 2}, "labelFontSize": 7, "labelPadding": 2, "title": "I\u0262/I\u1D05", "titleFontSize": 9, "titleX": -19.5, "titleY": 64}},
            "stroke": {"field": "g", "type": "nominal", "scale": {"domain": ["before sintering", "after sintering"], "range": ["#888888", "#ff7070"]},
              "legend": {"orient": "none", "legendX": 74.5, "legendY": 4.5, "title": null, "symbolType": "M-1.9,0H1.9M-0.44,-0.44H0.44V0.44H-0.44Z", "symbolSize": 81, "symbolStrokeWidth": 1, "labelFontSize": 8, "rowPadding": 0, "labelOffset": 7,
                "encode": {"symbols": {"update": {
                  "stroke": {"signal": "datum.value === 'before sintering' ? '#888888' : '#ff7070'"},
                  "fill": {"signal": "datum.value === 'before sintering' ? '#111111' : '#ee1111'"},
                  "fillOpacity": {"value": 1},
                  "shape": {"signal": "datum.value === 'before sintering' ? 'M-1.9,0H1.9M-0.44,-0.44H0.44V0.44H-0.44Z' : 'M-1.9,0H1.9M-0.44,0A0.44,0.44 0 1,1 0.44,0A0.44,0.44 0 1,1 -0.44,0Z'"}
                }}}}}
          }
        },
        {
          "transform": [{"filter": "datum.g === 'before sintering'"}],
          "mark": {"type": "point", "shape": "square", "filled": true, "size": 16, "opacity": 1, "color": "#111111"},
          "encoding": {
            "y": {"field": "y", "type": "quantitative",
              "axis": {"orient": "right", "domain": false, "ticks": false, "labels": false, "title": " ", "titleX": 11, "titleY": 60}}
          }
        },
        {
          "transform": [{"filter": "datum.g === 'after sintering'"}],
          "mark": {"type": "point", "shape": "circle", "filled": true, "size": 16, "opacity": 1, "color": "#ee1111"},
          "encoding": {
            "y": {"field": "y", "type": "quantitative", "axis": null}
          }
        }
      ],
      "resolve": {"axis": {"y": "independent"}}
    }
  ]
}
